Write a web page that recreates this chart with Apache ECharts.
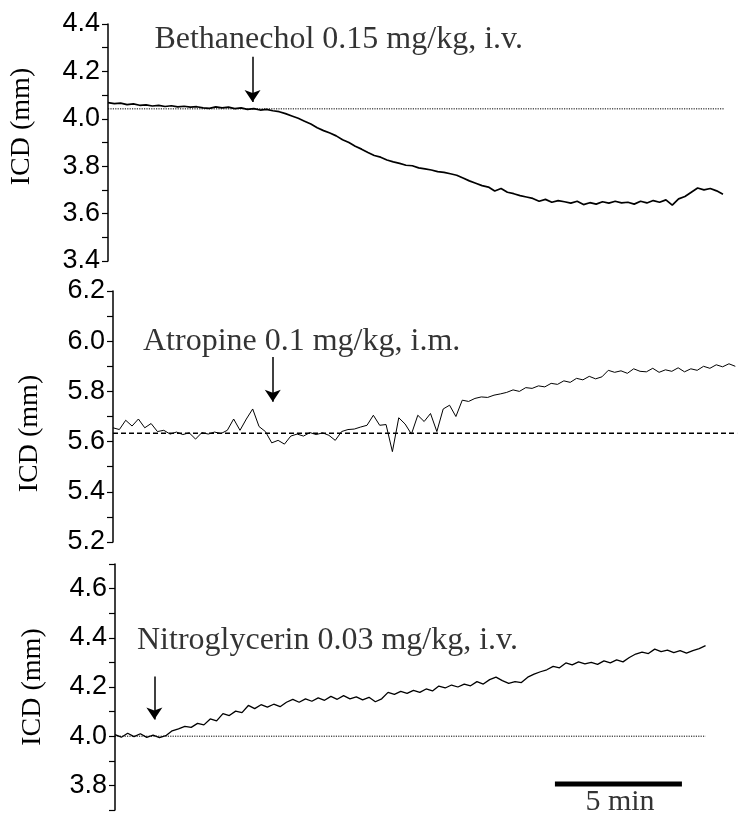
<!DOCTYPE html>
<html><head><meta charset="utf-8">
<script src="https://cdn.jsdelivr.net/npm/echarts@6/dist/echarts.min.js"></script>
<style>html,body{margin:0;padding:0;background:#fff}#c{width:750px;height:826px}</style>
</head><body><div id="c"></div>
<script>
// sampling step of the traces (minutes)
const timeStep = 0.25;

// Panel 1: Bethanechol 0.15 mg/kg, i.v.  ICD (mm)
const bethanecholICD = [
 4.068,4.064,4.066,4.060,4.063,4.057,4.059,4.054,4.057,4.052,4.055,4.050,4.053,4.049,4.051,4.046,
 4.044,4.050,4.046,4.049,4.043,4.046,4.040,4.043,4.037,4.040,4.034,4.030,4.022,4.012,4.002,3.990,
 3.978,3.962,3.950,3.940,3.928,3.912,3.900,3.884,3.872,3.858,3.845,3.838,3.826,3.818,3.812,3.804,
 3.802,3.793,3.789,3.784,3.777,3.774,3.768,3.762,3.750,3.738,3.728,3.718,3.712,3.695,3.706,3.690,
 3.684,3.676,3.670,3.664,3.652,3.660,3.648,3.655,3.650,3.644,3.652,3.638,3.646,3.640,3.650,3.644,
 3.652,3.645,3.648,3.640,3.652,3.645,3.655,3.648,3.658,3.636,3.662,3.672,3.690,3.708,3.700,3.706,
 3.696,3.682
];
// Panel 2: Atropine 0.1 mg/kg, i.m.
const atropineICD = [
 5.655,5.648,5.685,5.662,5.690,5.655,5.672,5.640,5.645,5.630,5.638,5.628,5.635,5.610,5.636,5.630,
 5.638,5.632,5.645,5.690,5.645,5.690,5.730,5.660,5.640,5.595,5.605,5.590,5.622,5.630,5.622,5.636,
 5.628,5.635,5.625,5.605,5.640,5.648,5.650,5.658,5.665,5.705,5.665,5.668,5.560,5.695,5.670,5.630,
 5.705,5.680,5.712,5.640,5.730,5.745,5.700,5.765,5.760,5.772,5.778,5.776,5.785,5.790,5.796,5.806,
 5.800,5.815,5.812,5.822,5.818,5.832,5.828,5.842,5.836,5.852,5.846,5.860,5.850,5.858,5.884,5.876,
 5.882,5.872,5.890,5.880,5.878,5.892,5.876,5.886,5.880,5.894,5.878,5.890,5.884,5.900,5.892,5.906,
 5.898,5.910,5.900
];
// Panel 3: Nitroglycerin 0.03 mg/kg, i.v.
const nitroglycerinICD = [
 4.006,3.996,4.012,3.998,4.010,3.995,4.004,3.994,4.002,4.022,4.030,4.040,4.036,4.052,4.046,4.070,
 4.062,4.092,4.084,4.102,4.096,4.125,4.112,4.128,4.118,4.130,4.120,4.138,4.150,4.138,4.152,4.142,
 4.156,4.146,4.162,4.150,4.165,4.152,4.160,4.148,4.158,4.140,4.152,4.178,4.170,4.182,4.174,4.186,
 4.178,4.192,4.184,4.204,4.196,4.208,4.200,4.212,4.205,4.222,4.212,4.230,4.240,4.226,4.215,4.222,
 4.218,4.240,4.252,4.262,4.270,4.284,4.278,4.298,4.290,4.302,4.294,4.300,4.292,4.306,4.298,4.310,
 4.302,4.320,4.334,4.342,4.336,4.354,4.344,4.350,4.340,4.348,4.338,4.348,4.356,4.368
];

// Axis ticks / labels
const topTicks = [3.4,3.5,3.6,3.7,3.8,3.9,4.0,4.1,4.2,4.3,4.4];
const topLabels = [3.4,3.6,3.8,4.0,4.2,4.4];
const midTicks = [5.2,5.3,5.4,5.5,5.6,5.7,5.8,5.9,6.0,6.1,6.2];
const midLabels = [5.2,5.4,5.6,5.8,6.0,6.2];
const botTicks = [3.7,3.8,3.9,4.0,4.1,4.2,4.3,4.4,4.5,4.6,4.7];
const botLabels = [3.8,4.0,4.2,4.4,4.6];

// Baselines (value, end time in min)
const baselineValues = [4.042, 5.633, 4.0];
const baselineEnds = [24.3, 24.57, 23.25];

// Annotations: text, text anchor [min, mm], arrow x (min), arrow top, arrow tip
const annotationTexts = ['Bethanechol 0.15 mg/kg, i.v.', 'Atropine 0.1 mg/kg, i.m.', 'Nitroglycerin 0.03 mg/kg, i.v.'];
const annotationAnchors = [[1.85, 4.332], [1.20, 5.996], [0.886, 4.385]];
const arrowX = [5.70, 6.29, 1.55];
const arrowTop = [4.262, 5.937, 4.243];
const arrowTip = [4.071, 5.759, 4.068];

// Scale bar
const scaleBarStart = 17.32, scaleBarEnd = 22.32, scaleBarY = 3.806;
const scaleBarText = '5 min';
const scaleBarTextPos = [19.9, 3.731];

const yName = 'ICD (mm)';

const SERIF = '"Liberation Serif","Times New Roman",serif';
const SANS = '"Liberation Sans",Arial,sans-serif';

const traces = [bethanecholICD, atropineICD, nitroglycerinICD];
const tickSets = [topTicks, midTicks, botTicks];
const labelSets = [topLabels, midLabels, botLabels];

const layout = [
  {left: 107, top: 24, height: 237, min: 3.4, max: 4.4, nameGap: 72, namePad: [0,0,0,32], lw: 1.7, baseType: [1.2,1.2], baseW: 1},
  {left: 113, top: 291, height: 251, min: 5.2, max: 6.2, nameGap: 69, namePad: [0,34,0,0], lw: 1.0, baseType: [5,3], baseW: 1.4},
  {left: 115, top: 564, height: 246, min: 3.7, max: 4.7, nameGap: 68, namePad: [0,0,0,0], lw: 1.3, baseType: [1.2,1.2], baseW: 1}
];

const grid = [], xAxis = [], yAxis = [], series = [];
layout.forEach((p, i) => {
  grid.push({left: p.left, top: p.top, height: p.height, width: 635});
  xAxis.push({type: 'value', gridIndex: i, min: 0, max: 25, show: false});
  yAxis.push({
    type: 'value', gridIndex: i, min: p.min, max: p.max,
    name: yName, nameLocation: 'middle', nameGap: p.nameGap,
    nameTextStyle: {fontFamily: SERIF, fontSize: 28, color: '#000', padding: p.namePad},
    axisLine: {show: true, lineStyle: {color: '#000', width: 1.5}},
    axisTick: {show: true, inside: false, length: 6, lineStyle: {color: '#000', width: 1.2}, customValues: tickSets[i]},
    axisLabel: {show: true, margin: 8, color: '#000', fontFamily: SANS, fontSize: 27,
      customValues: labelSets[i], formatter: v => v.toFixed(1)},
    splitLine: {show: false}
  });
  // trace
  series.push({
    type: 'line', xAxisIndex: i, yAxisIndex: i, showSymbol: false, symbol: 'none',
    data: traces[i].map((v, k) => [k * timeStep, v]),
    lineStyle: {color: '#000', width: p.lw}, silent: true, z: 3
  });
  // baseline
  series.push({
    type: 'line', xAxisIndex: i, yAxisIndex: i, symbol: 'none',
    data: [[0, baselineValues[i]], [baselineEnds[i], baselineValues[i]]],
    lineStyle: {color: '#000', width: p.baseW, type: p.baseType}, silent: true, z: 2
  });
  // annotation text + arrow
  series.push({
    type: 'scatter', xAxisIndex: i, yAxisIndex: i, symbolSize: 1,
    itemStyle: {color: 'rgba(0,0,0,0)'},
    data: [annotationAnchors[i]],
    label: {show: true, position: [0, 0], align: 'left', verticalAlign: 'middle',
      formatter: annotationTexts[i], fontFamily: SERIF, fontSize: 32, color: '#000'},
    markLine: {
      silent: true, symbol: ['none', 'arrow'], symbolSize: 12,
      lineStyle: {color: '#000', width: 1.5, type: 'solid'},
      itemStyle: {color: '#000'},
      label: {show: false},
      data: [[{coord: [arrowX[i], arrowTop[i]]}, {coord: [arrowX[i], arrowTip[i]]}]]
    },
    silent: true, z: 4
  });
});

// scale bar
series.push({
  type: 'line', xAxisIndex: 2, yAxisIndex: 2, symbol: 'none',
  data: [[scaleBarStart, scaleBarY], [scaleBarEnd, scaleBarY]],
  lineStyle: {color: '#000', width: 5}, silent: true
});
series.push({
  type: 'scatter', xAxisIndex: 2, yAxisIndex: 2, symbolSize: 1,
  itemStyle: {color: 'rgba(0,0,0,0)'},
  data: [scaleBarTextPos],
  label: {show: true, position: [0, 0], align: 'center', verticalAlign: 'middle',
    formatter: scaleBarText, fontFamily: SERIF, fontSize: 30, color: '#000'},
  silent: true
});

const chart = echarts.init(document.getElementById('c'), null, {renderer: 'canvas'});
chart.setOption({animation: false, backgroundColor: '#fff', grid, xAxis, yAxis, series});
</script></body></html>
